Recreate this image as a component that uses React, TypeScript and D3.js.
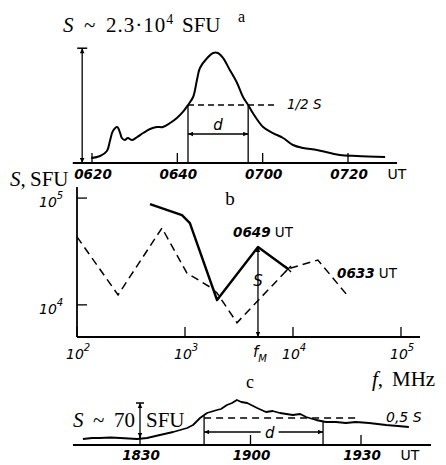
import * as d3 from "d3";

// panel a: time in minutes after 06:00 UT, flux in SFU
const aTickTimes = [20, 40, 60, 80];
const aTickLabels = ["0620", "0640", "0700", "0720"];
const aTime = [19.8, 21.9, 23.5, 24.2, 24.9, 25.9, 26.6, 27.0, 27.7, 28.4, 29.4, 30.6, 32.0, 33.6, 35.2, 36.6, 38.3, 39.9, 41.3, 42.5, 43.7, 44.6, 45.3, 47.0, 48.4, 49.5, 50.7, 52.3, 54.0, 55.4, 56.6, 57.7, 60.1, 62.4, 64.8, 67.1, 69.5, 72.7, 75.8, 78.1, 82.1, 88.7];
const aFlux = [1050, 1460, 2510, 4600, 6690, 7530, 6270, 5230, 4810, 5230, 4810, 5440, 6270, 7110, 7530, 7530, 8360, 9410, 10670, 12130, 13800, 17360, 19860, 21960, 23000, 23000, 21960, 19450, 16730, 13800, 12130, 10450, 7530, 6270, 5230, 3760, 3140, 2720, 2090, 1670, 1460, 1250];
const aHalf = 12130;
const aHalfStart = 42.5;
const aHalfEnd = 56.6;
const aPeak = 24000;

// panel b: spectra, frequency in MHz, flux in SFU
const bTicks = [100, 1000, 10000, 100000];
const bExps = ["2", "3", "4", "5"];
const bYTicks = [10000, 100000];
const bYExps = ["4", "5"];
const s0649f = [474, 938, 1110, 1980, 4740, 9000];
const s0649s = [87900, 69300, 58300, 11100, 34800, 21700];
const s0633f = [100, 240, 612, 1040, 1700, 1980, 3030, 9000, 17000, 31600];
const s0633s = [43300, 12400, 52500, 19900, 14700, 12900, 6800, 21700, 26300, 12400];
const fM = 4740;

// panel c: time in minutes after 18:00 UT, flux in SFU above axis
const cTickTimes = [30, 60, 90];
const cTickLabels = ["1830", "1900", "1930"];
const cTime = [14.5, 17.0, 19.1, 22.0, 24.6, 27.0, 29.2, 31.9, 35.4, 39.0, 42.8, 44.4, 46.3, 48.2, 50.9, 52.0, 53.6, 55.0, 56.3, 57.5, 59.1, 61.8, 64.2, 66.0, 68.0, 71.5, 73.5, 75.1, 77.8, 80.5, 83.2, 85.9, 88.6, 92.2, 94.5, 96.8, 100.0, 103.0];
const cFlux = [12, 14, 14, 15, 14, 13, 12, 14, 20, 26, 34, 40, 54, 64, 70, 72, 80, 84, 90, 86, 84, 74, 66, 68, 64, 60, 62, 56, 50, 46, 46, 44, 46, 44, 42, 40, 38, 36];
const cHalf = 54;
const cHalfStart = 47.4;
const cHalfEnd = 79.7;
const cPeak = 84;
const cBase = 14;

const sans = "'DejaVu Sans', sans-serif";
const serif = "'Liberation Serif', 'Times New Roman', serif";

function Arrow({ x1, y1, x2, y2, start = true, end = true, w = 1.3 }: any) {
  return (
    <line
      x1={x1}
      y1={y1}
      x2={x2}
      y2={y2}
      stroke="#000"
      strokeWidth={w}
      markerStart={start ? "url(#arr)" : undefined}
      markerEnd={end ? "url(#arr)" : undefined}
    />
  );
}

export default function App() {
  // panel a scales
  const xa = d3.scaleLinear().domain([20, 80]).range([92, 348]);
  const ya = d3.scaleLinear().domain([0, 23000]).range([163, 53]);
  const lineA = d3
    .line<number>()
    .x((_, i) => xa(aTime[i]))
    .y((d) => ya(d))
    .curve(d3.curveCatmullRom);

  // panel b scales
  const xb = d3.scaleLog().domain([100, 150000]).range([77, 420]);
  const yb = d3.scaleLog().domain([5000, 127000]).range([337, 187]);
  const line0649 = d3
    .line<number>()
    .x((_, i) => xb(s0649f[i]))
    .y((d) => yb(d));
  const line0633 = d3
    .line<number>()
    .x((_, i) => xb(s0633f[i]))
    .y((d) => yb(d));

  // panel c scales
  const xc = d3.scaleLinear().domain([30, 90]).range([140, 361]);
  const yc = d3.scaleLinear().domain([0, 100]).range([445, 395]);
  const lineC = d3
    .line<number>()
    .x((_, i) => xc(cTime[i]))
    .y((d) => yc(d));

  const tickFont = { fontFamily: sans, fontStyle: "italic", fontSize: 13.5, fontWeight: 600 } as const;
  const big = { fontFamily: serif, fontSize: 21 } as const;

  return (
    <svg
      width={446}
      height={465}
      style={{ position: "absolute", left: 0, top: 0, background: "#fff" }}
    >
      <defs>
        <marker
          id="arr"
          viewBox="0 0 10 10"
          refX="10"
          refY="5"
          markerWidth="8"
          markerHeight="5"
          markerUnits="userSpaceOnUse"
          orient="auto-start-reverse"
        >
          <path d="M0,0.5 L10,5 L0,9.5 z" fill="#000" />
        </marker>
      </defs>

      {/* panel a */}
      <text y={32} style={big}>
        <tspan x={63} fontStyle="italic">S</tspan>
        <tspan x={84}>~</tspan>
        <tspan x={106} letterSpacing={1}>2.3·10</tspan>
        <tspan dy={-8} fontSize={14}>4</tspan>
        <tspan x={182} dy={8}>SFU</tspan>
      </text>
      <text x={238} y={22} style={{ fontFamily: serif, fontSize: 16 }}>a</text>

      <line x1={xa(15.5)} x2={xa(91.5)} y1={ya(0)} y2={ya(0)} stroke="#000" strokeWidth={2} />
      {aTickTimes.map((t) => (
        <line key={t} x1={xa(t)} x2={xa(t)} y1={ya(0)} y2={ya(0) - 10} stroke="#000" strokeWidth={1.3} />
      ))}
      {aTickTimes.map((t, i) => (
        <text key={t} x={xa(t) + 1} y={179} textAnchor="middle" style={tickFont}>
          {aTickLabels[i]}
        </text>
      ))}
      <text x={397} y={179} textAnchor="middle" style={{ fontFamily: sans, fontSize: 14 }}>UT</text>

      {/* peak amplitude arrow */}
      <line x1={xa(17.7) - 5} x2={xa(17.7) + 5} y1={ya(aPeak)} y2={ya(aPeak)} stroke="#000" strokeWidth={1.5} />
      <Arrow x1={xa(17.7)} y1={ya(aPeak)} x2={xa(17.7)} y2={ya(0)} />

      <path d={lineA(aFlux) ?? ""} fill="none" stroke="#000" strokeWidth={2} strokeLinejoin="round" />

      {/* half level and width */}
      <line x1={xa(aHalfStart)} x2={xa(63.4)} y1={ya(aHalf)} y2={ya(aHalf)} stroke="#000" strokeWidth={1.4} strokeDasharray="6,4" />
      <line x1={xa(aHalfStart)} x2={xa(aHalfStart)} y1={ya(aHalf)} y2={ya(0)} stroke="#000" strokeWidth={1.3} />
      <line x1={xa(aHalfEnd)} x2={xa(aHalfEnd)} y1={ya(aHalf)} y2={ya(0)} stroke="#000" strokeWidth={1.3} />
      <Arrow x1={xa(aHalfStart)} y1={ya(6060)} x2={xa(aHalfEnd)} y2={ya(6060)} />
      <text x={(xa(aHalfStart) + xa(aHalfEnd)) / 2} y={130} textAnchor="middle" style={{ fontFamily: sans, fontStyle: "italic", fontSize: 15 }}>d</text>
      <text x={xa(65.7)} y={109} style={{ fontFamily: sans, fontStyle: "italic", fontSize: 13.5 }}>1/2 S</text>

      {/* panel b */}
      <text y={186} style={big}>
        <tspan x={10} fontStyle="italic">S</tspan>,
        <tspan x={30}>SFU</tspan>
      </text>
      <text x={230} y={205} textAnchor="middle" style={{ fontFamily: serif, fontSize: 19 }}>b</text>

      <line x1={xb(100)} x2={xb(100)} y1={yb(127000)} y2={yb(5000)} stroke="#000" strokeWidth={1.8} />
      <line x1={xb(100)} x2={xb(150000)} y1={yb(5000)} y2={yb(5000)} stroke="#000" strokeWidth={1.8} />
      {bYTicks.map((v, i) => (
        <g key={v}>
          <line x1={xb(100)} x2={xb(100) + 10} y1={yb(v)} y2={yb(v)} stroke="#000" strokeWidth={1.3} />
          <text x={39} y={yb(v) + 9} style={{ fontFamily: sans, fontStyle: "italic", fontSize: 14 }}>
            10
            <tspan dy={-8} fontSize={10}>{bYExps[i]}</tspan>
          </text>
        </g>
      ))}
      {bTicks.map((f, i) => (
        <g key={f}>
          <line x1={xb(f)} x2={xb(f)} y1={yb(5000)} y2={yb(5000) - 10} stroke="#000" strokeWidth={1.3} />
          <text x={xb(f) - 11} y={359} style={{ fontFamily: sans, fontStyle: "italic", fontSize: 14 }}>
            10
            <tspan dy={-8} fontSize={10}>{bExps[i]}</tspan>
          </text>
        </g>
      ))}
      <text x={xb(fM) - 5} y={357} style={{ fontFamily: sans, fontStyle: "italic", fontSize: 15 }}>
        f<tspan dy={5} fontSize={10}>M</tspan>
      </text>

      <path d={line0633(s0633s) ?? ""} fill="none" stroke="#000" strokeWidth={1.5} strokeDasharray="8,5" />
      <path d={line0649(s0649s) ?? ""} fill="none" stroke="#000" strokeWidth={2.4} strokeLinejoin="round" />
      <path
        d={`M${xb(9000) - 3},${yb(21700) - 3}L${xb(9000) + 3},${yb(21700) + 3}M${xb(9000) - 3},${yb(21700) + 3}L${xb(9000) + 3},${yb(21700) - 3}`}
        stroke="#000"
        strokeWidth={1.3}
      />
      <Arrow x1={xb(fM)} y1={yb(34800)} x2={xb(fM)} y2={yb(5000)} />
      <text x={xb(fM)} y={286} textAnchor="middle" style={{ fontFamily: sans, fontStyle: "italic", fontSize: 15 }}>S</text>
      <text x={233} y={237} style={{ fontFamily: sans, fontSize: 13.5 }}>
        <tspan fontStyle="italic" fontWeight={600}>0649</tspan> UT
      </text>
      <text x={337} y={278} style={{ fontFamily: sans, fontSize: 13.5 }}>
        <tspan fontStyle="italic" fontWeight={600}>0633</tspan> UT
      </text>
      <text y={386} style={big}>
        <tspan x={372} fontStyle="italic">f</tspan>,
        <tspan x={392}>MHz</tspan>
      </text>

      {/* panel c */}
      <text x={250} y={388} textAnchor="middle" style={{ fontFamily: serif, fontSize: 18 }}>c</text>
      <line x1={xc(11.8)} x2={xc(109)} y1={yc(0)} y2={yc(0)} stroke="#000" strokeWidth={2} />
      {cTickTimes.map((t) => (
        <line key={t} x1={xc(t)} x2={xc(t)} y1={yc(0)} y2={yc(0) - 10} stroke="#000" strokeWidth={1.3} />
      ))}
      {cTickTimes.map((t, i) => (
        <text key={t} x={xc(t) + 1} y={460} textAnchor="middle" style={tickFont}>
          {cTickLabels[i]}
        </text>
      ))}
      <text x={410} y={460} textAnchor="middle" style={{ fontFamily: sans, fontSize: 14 }}>UT</text>

      <path d={lineC(cFlux) ?? ""} fill="none" stroke="#000" strokeWidth={1.8} strokeLinejoin="round" />

      <line x1={xc(30) - 4} x2={xc(30) + 4} y1={yc(cPeak)} y2={yc(cPeak)} stroke="#000" strokeWidth={1.5} />
      <Arrow x1={xc(30)} y1={yc(cPeak)} x2={xc(30)} y2={yc(cBase)} />
      <text y={427} style={big}>
        <tspan x={73} fontStyle="italic">S</tspan>
        <tspan x={93}>~</tspan>
        <tspan x={114}>70</tspan>
        <tspan x={146}>SFU</tspan>
      </text>

      <line x1={xc(cHalfStart)} x2={xc(88.4)} y1={yc(cHalf)} y2={yc(cHalf)} stroke="#000" strokeWidth={1.4} strokeDasharray="7,5" />
      <line x1={xc(cHalfStart)} x2={xc(cHalfStart)} y1={yc(cHalf) - 2} y2={yc(0)} stroke="#000" strokeWidth={1.3} />
      <line x1={xc(cHalfEnd)} x2={xc(cHalfEnd)} y1={yc(46)} y2={yc(0)} stroke="#000" strokeWidth={1.3} />
      <Arrow x1={xc(cHalfStart)} y1={yc(26)} x2={xc(cHalfEnd)} y2={yc(26)} />
      <rect x={xc(65.2) - 9} y={yc(26) - 9} width={18} height={16} fill="#fff" />
      <text x={xc(65.2)} y={438} textAnchor="middle" style={{ fontFamily: sans, fontStyle: "italic", fontSize: 15 }}>d</text>
      <text x={386} y={422} style={{ fontFamily: sans, fontStyle: "italic", fontSize: 14 }}>0,5 S</text>
    </svg>
  );
}
